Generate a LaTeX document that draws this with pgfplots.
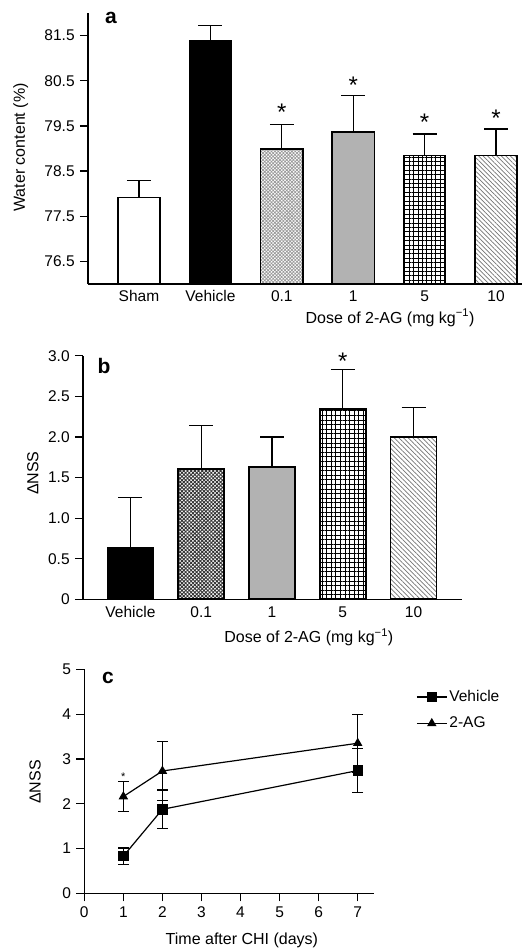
\documentclass[border=0pt]{standalone}
\usepackage{fontspec}
\setmainfont{Liberation Sans}
\usepackage{pgfplots}
\pgfplotsset{compat=1.18}
\usetikzlibrary{patterns,patterns.meta}

\pgfplotsset{
  /pgf/number format/assume math mode=true,
  panel/.style={
    scale only axis,
    axis x line=bottom, axis y line=left,
    axis line style={-, line width=1.2pt},
    tick style={black, line width=1.2pt},
    tick align=outside,
    major tick length=8pt,
    enlargelimits=false,
    label style={font=\fontsize{16}{19}\selectfont},
  },
  barerr/.style={
    error bars/.cd, y dir=plus, y explicit,
    error bar style={black, line width=1.2pt},
    error mark options={rotate=90, black, line width=1.2pt, mark size=12pt},
  },
  lineerr/.style={
    error bars/.cd, y dir=both, y explicit,
    error bar style={black, line width=1.2pt},
    error mark options={rotate=90, black, line width=1.2pt, mark size=5.3pt},
  },
}

\begin{document}
\fontsize{15.5}{18}\selectfont
\begin{tikzpicture}
\useasboundingbox (0pt,0pt) rectangle (522pt,-949pt);

% ---------- a ----------
\begin{axis}[panel, at={(88pt,-284pt)}, anchor=south west,
  width=434pt, height=271pt,
  ybar, bar width=0.59, bar shift=0pt, axis on top,
  xmin=-0.714, xmax=5.364, ymin=76, ymax=82,
  xtick={0,1,2,3,4,5}, xticklabels={Sham,Vehicle,0.1,1,5,10},
  xtick style={draw=none},
  x tick label style={yshift=7pt},
  ytick={76.5,77.5,78.5,79.5,80.5,81.5},
  yticklabel style={/pgf/number format/.cd, fixed, fixed zerofill, precision=1},
  ylabel={Water content (\%)},
  ylabel style={at={(axis description cs:-0.155,0.504)}, anchor=center},
  xlabel={Dose of 2-AG (mg kg\textsuperscript{−1})},
  xlabel style={at={(axis description cs:0.696,-0.125)}, anchor=center},
]
\addplot[draw=black, line width=1.5pt, fill=white, barerr] coordinates {(0,77.92) +- (0,0.38)};
\addplot[draw=black, line width=1.5pt, fill=black, barerr] coordinates {(1,81.38) +- (0,0.34)};
\addplot[draw=black, line width=1.5pt, pattern={Hatch[angle=45, distance=2.4pt, line width=0.75pt]}, pattern color=gray!80, barerr] coordinates {(2,78.99) +- (0,0.54)};
\addplot[draw=black, line width=1.5pt, fill=gray!60, barerr] coordinates {(3,79.37) +- (0,0.81)};
\addplot[draw=black, line width=1.5pt, pattern={Hatch[angle=0, distance=4.4pt, line width=0.9pt]}, pattern color=black, barerr] coordinates {(4,78.85) +- (0,0.47)};
\addplot[draw=black, line width=1.5pt, pattern={Lines[angle=-45, distance=3.2pt, line width=0.7pt]}, pattern color=gray!90!black, barerr] coordinates {(5,78.85) +- (0,0.58)};
\node[font=\fontsize{24}{24}\selectfont, anchor=base] at (axis cs:2,79.61) {*};
\node[font=\fontsize{24}{24}\selectfont, anchor=base] at (axis cs:3,80.21) {*};
\node[font=\fontsize{24}{24}\selectfont, anchor=base] at (axis cs:4,79.39) {*};
\node[font=\fontsize{24}{24}\selectfont, anchor=base] at (axis cs:5,79.48) {*};
\end{axis}

% ---------- b ----------
\begin{axis}[panel, at={(83pt,-599.3pt)}, anchor=south west,
  width=379pt, height=243.6pt,
  ybar, bar width=0.65, bar shift=0pt, clip=false,
  xmin=-0.671, xmax=4.685, ymin=0, ymax=3,
  xtick={0,1,2,3,4}, xticklabels={Vehicle,0.1,1,5,10},
  xtick style={draw=none},
  x tick label style={yshift=6pt},
  ytick={0,0.5,1,1.5,2,2.5,3},
  yticklabels={0,0.5,1.0,1.5,2.0,2.5,3.0},
  ylabel={ΔNSS},
  ylabel style={at={(axis description cs:-0.132,0.518)}, anchor=center},
  xlabel={Dose of 2-AG (mg kg\textsuperscript{−1})},
  xlabel style={at={(axis description cs:0.596,-0.155)}, anchor=center},
]
\addplot[draw=black, line width=1.8pt, fill=black, barerr] coordinates {(0,0.63) +- (0,0.62)};
\addplot[draw=black, line width=1.8pt, pattern={Hatch[angle=45, distance=2.6pt, line width=0.9pt]}, pattern color=gray!40!black, barerr] coordinates {(1,1.60) +- (0,0.54)};
\addplot[draw=black, line width=1.8pt, fill=gray!60, barerr] coordinates {(2,1.63) +- (0,0.37)};
\addplot[draw=black, line width=1.8pt, pattern={Hatch[angle=0, distance=4.6pt, line width=0.9pt]}, pattern color=black, barerr] coordinates {(3,2.34) +- (0,0.49)};
\addplot[draw=black, line width=1.8pt, pattern={Lines[angle=-45, distance=3.3pt, line width=0.7pt]}, pattern color=gray!90!black, barerr] coordinates {(4,2.00) +- (0,0.36)};
\node[font=\fontsize{24}{24}\selectfont, anchor=base] at (axis cs:3,2.836) {*};
\end{axis}

% ---------- c ----------
\begin{axis}[panel, at={(84.3pt,-893.3pt)}, anchor=south west,
  width=289.7pt, height=224pt, clip=false,
  xmin=0, xmax=7.417, ymin=0, ymax=5,
  xtick={0,1,2,3,4,5,6,7}, ytick={0,1,2,3,4,5},
  ylabel={ΔNSS},
  ylabel style={at={(axis description cs:-0.170,0.497)}, anchor=center},
  xlabel={Time after CHI (days)},
  xlabel style={at={(axis description cs:0.544,-0.208)}, anchor=center},
  legend style={at={(axis description cs:1.138,0.925)}, anchor=north west,
    draw=none, fill=none, row sep=9pt, inner sep=2pt},
  legend cell align=left,
  legend image code/.code={\draw[mark repeat=2,mark phase=2,#1] plot coordinates {(0pt,0pt) (15pt,0pt) (30pt,0pt)};},
]
\addplot[black, line width=1.2pt, mark=square*, mark size=4.6pt, mark options={solid, fill=black}, lineerr]
  coordinates {(1,0.83) +- (0,0.18) (2,1.875) +- (0,0.43) (7,2.74) +- (0,0.49)};
\addlegendentry{Vehicle}
\addplot[black, line width=1.2pt, mark=triangle*, mark size=4.3pt, mark options={solid, fill=black}, lineerr]
  coordinates {(1,2.16) +- (0,0.34) (2,2.73) +- (0,0.66) (7,3.35) +- (0,0.65)};
\addlegendentry{2-AG}
\node[font=\fontsize{11}{11}\selectfont, anchor=base] at (axis cs:1,2.52) {*};
\end{axis}

\node[font=\fontsize{21}{21}\selectfont\bfseries] at (111pt,-18pt) {a};
\node[font=\fontsize{21}{21}\selectfont\bfseries] at (104pt,-366pt) {b};
\node[font=\fontsize{21}{21}\selectfont\bfseries] at (108pt,-678pt) {c};
\end{tikzpicture}
\end{document}
